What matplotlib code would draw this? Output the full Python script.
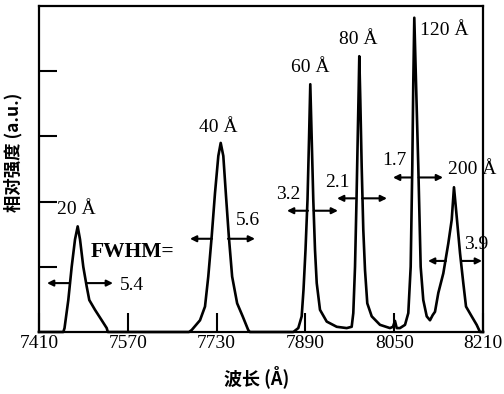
import matplotlib
matplotlib.use("Agg")
import matplotlib.pyplot as plt

# spectrum: wavelength [Å], relative intensity [a.u.]
wavelength = [
    7410, 7453.8, 7456, 7462.8, 7468.9, 7474.9, 7479.7, 7483.9, 7489.8, 7495.9,
    7500.6, 7510.9, 7523, 7532, 7534,
    7680.3, 7685.1, 7700.1, 7709.1, 7715, 7721.2, 7727.1, 7733.1, 7737.4, 7742.1,
    7747, 7752, 7758, 7767, 7777, 7787, 7790,
    7862.3, 7868.2, 7877.2, 7883.3, 7886.6, 7890.2, 7893.8, 7896.5, 7898.8, 7901.4,
    7904.2, 7907.3, 7910.4, 7916.3, 7928.4, 7946.4, 7964.4, 7973.4,
    7976.3, 7979.4, 7982.1, 7984.2, 7986.0, 7987.1, 7988.9, 7991.4, 7994.3, 7997.4,
    8001.5, 8009.5, 8024.4, 8042.4, 8047.8, 8051.4, 8054.5, 8060.4, 8069.5,
    8075.4, 8079.7, 8082.6, 8084.4, 8086.2, 8089.3, 8093.4, 8097.7, 8102.4, 8108.6,
    8114.5, 8119.4, 8123.5, 8129.5, 8138.5, 8147.5, 8153.6, 8157.7, 8162.6, 8168.6,
    8174.5, 8179.4, 8189.6, 8198.6, 8204.6, 8210,
]
intensity = [
    0, 0, 0.06, 0.49, 1.0, 1.42, 1.62, 1.42, 1.0, 0.70,
    0.49, 0.34, 0.18, 0.06, 0,
    0, 0.03, 0.18, 0.39, 0.85, 1.47, 2.13, 2.70, 2.90, 2.70,
    2.08, 1.47, 0.85, 0.44, 0.24, 0.03, 0,
    0, 0.0, 0.06, 0.24, 0.65, 1.26, 2.03, 2.95, 3.80, 2.95,
    2.03, 1.26, 0.75, 0.34, 0.16, 0.08, 0.06, 0.08,
    0.29, 1.00, 2.03, 2.95, 3.72, 4.23, 3.57, 2.54, 1.57, 0.95,
    0.44, 0.24, 0.11, 0.06, 0.08, 0.17, 0.06, 0.06, 0.11,
    0.29, 1.00, 2.54, 3.83, 4.82, 3.83, 2.54, 1.00, 0.49, 0.24,
    0.18, 0.26, 0.31, 0.60, 0.90, 1.36, 1.72, 2.22, 1.77, 1.21,
    0.75, 0.39, 0.24, 0.11, 0.0, 0,
]

# period labels over each peak
peak_labels = ["20 Å", "40 Å", "60 Å", "80 Å", "120 Å", "200 Å"]
peak_label_x = [7476.7, 7733.8, 7898.3, 7985.3, 8139.7, 8191]
peak_label_y = [1.88, 3.14, 4.06, 4.48, 4.62, 2.49]

# FWHM values and arrow positions
fwhm_text = ["5.4", "5.6", "3.2", "2.1", "1.7", "3.9"]
fwhm_text_x = [7577, 7786.6, 7858.7, 7947.8, 8049.6, 8198.6]
fwhm_text_y = [0.72, 1.71, 2.11, 2.29, 2.63, 1.34]
fwhm_level = [0.75, 1.43, 1.86, 2.05, 2.37, 1.09]
fwhm_left = [(7424.4, 7465.9), (7682, 7721.7), (7856.8, 7894.7),
             (7947, 7979.4), (8047.8, 8081.2), (8110.9, 8143.3)]
fwhm_right = [(7494.7, 7543.3), (7750.5, 7799.2), (7904.9, 7948.7),
              (7992, 8037), (8093.8, 8138), (8170.4, 8208.2)]

xticks = [7410, 7570, 7730, 7890, 8050, 8210]
xtick_labels = ["7410", "7570", "7730", "7890", "8050", "8210"]
yticks = [1, 2, 3, 4]

SERIF = "Liberation Serif"
CJK = ["Noto Sans CJK SC", "DejaVu Sans"]

fig = plt.figure(figsize=(5.04, 3.94), dpi=100)
ax = fig.add_axes([39 / 504, 62 / 394, 444 / 504, 326 / 394])

ax.plot(wavelength, intensity, color="black", lw=1.9, solid_joinstyle="round", clip_on=False)

for lbl, x, y in zip(peak_labels, peak_label_x, peak_label_y):
    ax.text(x, y, lbl, ha="center", va="center", fontsize=14, family=SERIF, clip_on=False)

for t, x, y in zip(fwhm_text, fwhm_text_x, fwhm_text_y):
    ax.text(x, y, t, ha="center", va="center", fontsize=14, family=SERIF, clip_on=False)

arrow = dict(arrowstyle="-|>", color="black", lw=1.5, mutation_scale=9, shrinkA=0, shrinkB=0)
for lev, (l0, l1), (r0, r1) in zip(fwhm_level, fwhm_left, fwhm_right):
    ax.annotate("", xy=(l0, lev), xytext=(l1, lev), arrowprops=arrow, annotation_clip=False)
    ax.annotate("", xy=(r1, lev), xytext=(r0, lev), arrowprops=arrow, annotation_clip=False)

ax.text(7579.4, 1.23, "FWHM=", ha="center", va="center", fontsize=15.5,
        family=SERIF, fontweight="bold")

ax.set_xlim(7410, 8210)
ax.set_ylim(0, 5)
ax.set_xticks(xticks)
ax.set_xticklabels(xtick_labels, family=SERIF, fontsize=14)
ax.set_yticks(yticks)
ax.set_yticklabels([])
ax.tick_params(axis="x", direction="in", length=14, width=1.5, pad=2)
ax.tick_params(axis="y", direction="in", length=13, width=1.5)
for s in ax.spines.values():
    s.set_linewidth(1.6)

fig.text(13 / 504, 1 - 152 / 394, "相对强度 (a.u.)", rotation=90, ha="center", va="center",
         fontsize=12.5, family=CJK, fontweight="bold")
fig.text(257 / 504, 1 - 377 / 394, "波长 (Å)", ha="center", va="center",
         fontsize=13, family=CJK, fontweight="bold")

fig.savefig("out.png", dpi=100)
